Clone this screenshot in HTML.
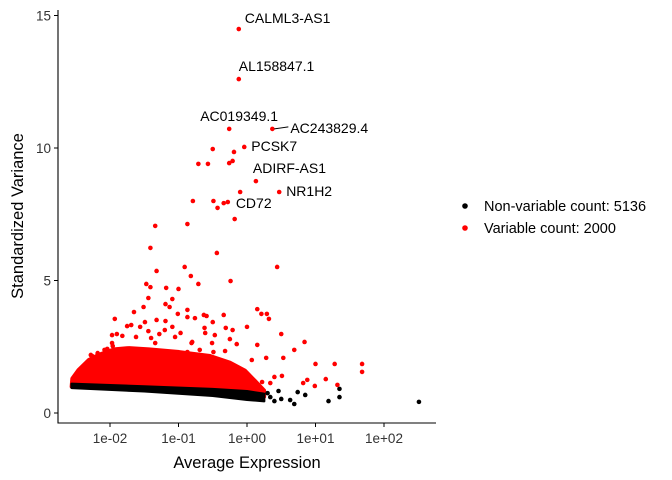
<!DOCTYPE html>
<html><head><meta charset="utf-8"><style>
body{margin:0;background:#fff;}
svg{display:block;font-family:"Liberation Sans",sans-serif;}
</style></head><body>
<svg id="chart" width="672" height="480">
<g id="marks"></g>
<g id="axes"></g>
<g id="labels"></g>
<g>
<circle cx="465" cy="206" r="2.8" fill="#000"/>
<text x="484" y="211" font-size="14.5" fill="#000">Non-variable count: 5136</text>
<circle cx="465" cy="228" r="2.8" fill="#f00"/>
<text x="484" y="233" font-size="14.5" fill="#000">Variable count: 2000</text>
</g>
</svg>
<script>
// data: log10(average expression), standardized variance
const redLogMean=[-0.12,-0.12,-0.26,0.37,-0.04,0.13,0.47,-0.28,-0.50,-0.19,-0.71,-0.57,-0.26,-0.21,-0.10,-0.79,-0.49,-0.34,-0.43,-0.18,-1.34,-0.87,-1.41,-0.44,-1.32,-0.91,0.44,-0.82,-0.24,-1.47,-1.41,-1.18,-1.00,-0.71,-1.44,-1.09,-1.51,-1.19,-1.13,-0.87,-1.01,0.15,0.21,0.29,0.32,-1.65,-1.93,-1.32,-0.63,-0.59,-0.50,-0.34,-0.87,-0.76,-1.69,-1.56,-1.44,-1.19,-1.09,-0.62,-0.31,0.00,-0.21,0.50,-0.97,-1.97,-1.82,-1.62,-1.40,-1.28,-0.81,-0.47,-0.25,0.84,0.15,-0.15,-2.26,-2.04,-1.96,-1.28,-0.87,-0.69,-0.49,-0.32,0.28,0.53,0.69,0.07,1.00,1.28,1.68,1.68,0.82,0.88,0.99,1.15,1.32,0.22,0.34,0.40,-0.04,0.51,-1.75,-1.90,-2.18,-2.28,-2.08,-1.97,-1.49,-1.20,-1.05,-1.34,-0.80,-0.61,-0.51];
const redVariance=[14.49,12.60,10.72,10.72,10.04,8.75,8.34,7.96,9.96,9.85,9.40,9.40,9.43,9.51,8.34,8.00,8.00,7.92,7.74,7.32,7.06,7.13,6.23,6.04,5.36,5.51,5.51,5.17,4.98,4.87,4.75,4.72,4.68,4.87,4.34,4.30,4.00,4.11,4.00,3.89,3.74,3.92,3.74,3.74,3.55,3.81,3.55,3.51,3.70,3.66,3.43,3.70,3.62,3.58,3.32,3.25,3.09,3.47,3.25,3.21,3.21,3.25,3.13,2.98,3.02,2.94,2.91,2.87,2.83,2.98,2.64,2.94,2.79,2.68,2.57,2.60,2.15,2.42,2.53,2.34,2.30,2.38,2.30,2.34,2.08,2.08,2.38,2.00,1.85,1.85,1.85,1.55,1.13,1.25,1.02,1.28,1.06,1.17,1.13,1.36,1.51,1.40,3.28,2.98,2.26,2.19,2.38,2.64,3.43,3.13,2.87,2.64,2.68,3.02,2.64];
const blackLogMean=[1.35,1.35,1.19,0.85,0.74,0.63,0.69,0.46,0.50,0.34,2.51,0.30,0.20,0.12,0.40];
const blackVariance=[0.91,0.60,0.45,0.68,0.79,0.49,0.34,0.83,0.53,0.60,0.42,0.75,0.50,0.62,0.45];
// dense red mass: upper envelope
const denseRedX=[-2.55,-2.46,-2.31,-2.16,-1.94,-1.72,-1.43,-0.99,-0.54,-0.25,-0.03,0.12,0.25];
const denseRedY=[1.3,1.62,2.0,2.2,2.4,2.45,2.4,2.3,2.15,1.9,1.6,1.2,0.85];
// dense black band
const bandX=[-2.56,-1.5,-0.5,0.0,0.25];
const bandTop=[1.1,1.0,0.9,0.82,0.72];
const bandBottom=[0.95,0.82,0.65,0.5,0.45];
const geneNames=["CALML3-AS1","AL158847.1","AC019349.1","AC243829.4","PCSK7","ADIRF-AS1","NR1H2","CD72"];
const xTickValues=[-2,-1,0,1,2];
const xTickLabels=["1e-02","1e-01","1e+00","1e+01","1e+02"];
const yTickValues=[0,5,10,15];

const NS="http://www.w3.org/2000/svg";
const X=v=>247+68.5*v;
const Y=v=>413-26.5*v;
function mk(tag,attrs,parent){const e=document.createElementNS(NS,tag);for(const k in attrs)e.setAttribute(k,attrs[k]);parent.appendChild(e);return e;}
const marks=document.getElementById('marks'),axes=document.getElementById('axes'),labels=document.getElementById('labels');

let pts=denseRedX.map((x,i)=>X(x)+','+Y(denseRedY[i]));
for(let i=bandX.length-1;i>=0;i--)pts.push(X(bandX[i])+','+Y(bandTop[i]-0.1));
const rm=mk('polygon',{points:pts.join(' '),fill:'#f00',stroke:'#f00','stroke-width':4,'stroke-linejoin':'round'},marks);


let bp=bandX.map((x,i)=>X(x)+','+Y(bandTop[i]));
for(let i=bandX.length-1;i>=0;i--)bp.push(X(bandX[i])+','+Y(bandBottom[i]));
const bb=mk('polygon',{points:bp.join(' '),fill:'#000',stroke:'#000','stroke-width':2.5,'stroke-linejoin':'round'},marks);



blackLogMean.forEach((x,i)=>{const c=mk('circle',{cx:X(x),cy:Y(blackVariance[i]),r:2.3,fill:'#000'},marks);

});
redLogMean.forEach((x,i)=>{const c=mk('circle',{cx:X(x),cy:Y(redVariance[i]),r:2.3,fill:'#f00'},marks);

});

const offs=[[6,-6,'start'],[0,-8,'start'],[-29,-8,'start'],[18,4,'start'],[7,4,'start'],[-3,-8,'start'],[7,4,'start'],[8,6,'start']];
geneNames.forEach((g,i)=>{const px=X(redLogMean[i]),py=Y(redVariance[i]);
const t=mk('text',{x:px+offs[i][0],y:py+offs[i][1],'font-size':14,fill:'#000'},labels);t.textContent=g;

});
const ln=mk('line',{x1:X(redLogMean[3])+2,y1:Y(redVariance[3]),x2:X(redLogMean[3])+16,y2:Y(redVariance[3])-2,stroke:'#000','stroke-width':1},labels);



const ya=mk('line',{x1:58,y1:10,x2:58,y2:423.5,stroke:'#000','stroke-width':1.1},axes);


const xa=mk('line',{x1:57.5,y1:423,x2:436,y2:423,stroke:'#000','stroke-width':1.1},axes);


xTickValues.forEach((v,i)=>{const x=X(v);mk('line',{x1:x,y1:423,x2:x,y2:427,stroke:'#000'},axes);
const t=mk('text',{x:x,y:443,'font-size':13.5,'text-anchor':'middle',fill:'#333'},axes);t.textContent=xTickLabels[i];

});
yTickValues.forEach(v=>{const y=Y(v);mk('line',{x1:54,y1:y,x2:58,y2:y,stroke:'#000'},axes);
const t=mk('text',{x:51,y:y+5,'font-size':13.5,'text-anchor':'end',fill:'#333'},axes);t.textContent=v;

});
const xt=mk('text',{x:247,y:468,'font-size':16.5,'text-anchor':'middle',fill:'#000'},axes);xt.textContent='Average Expression';


const yt=mk('text',{x:0,y:0,'font-size':16.5,'text-anchor':'middle',fill:'#000',transform:'translate(23,216) rotate(-90)'},axes);yt.textContent='Standardized Variance';


</script>
</body></html>
